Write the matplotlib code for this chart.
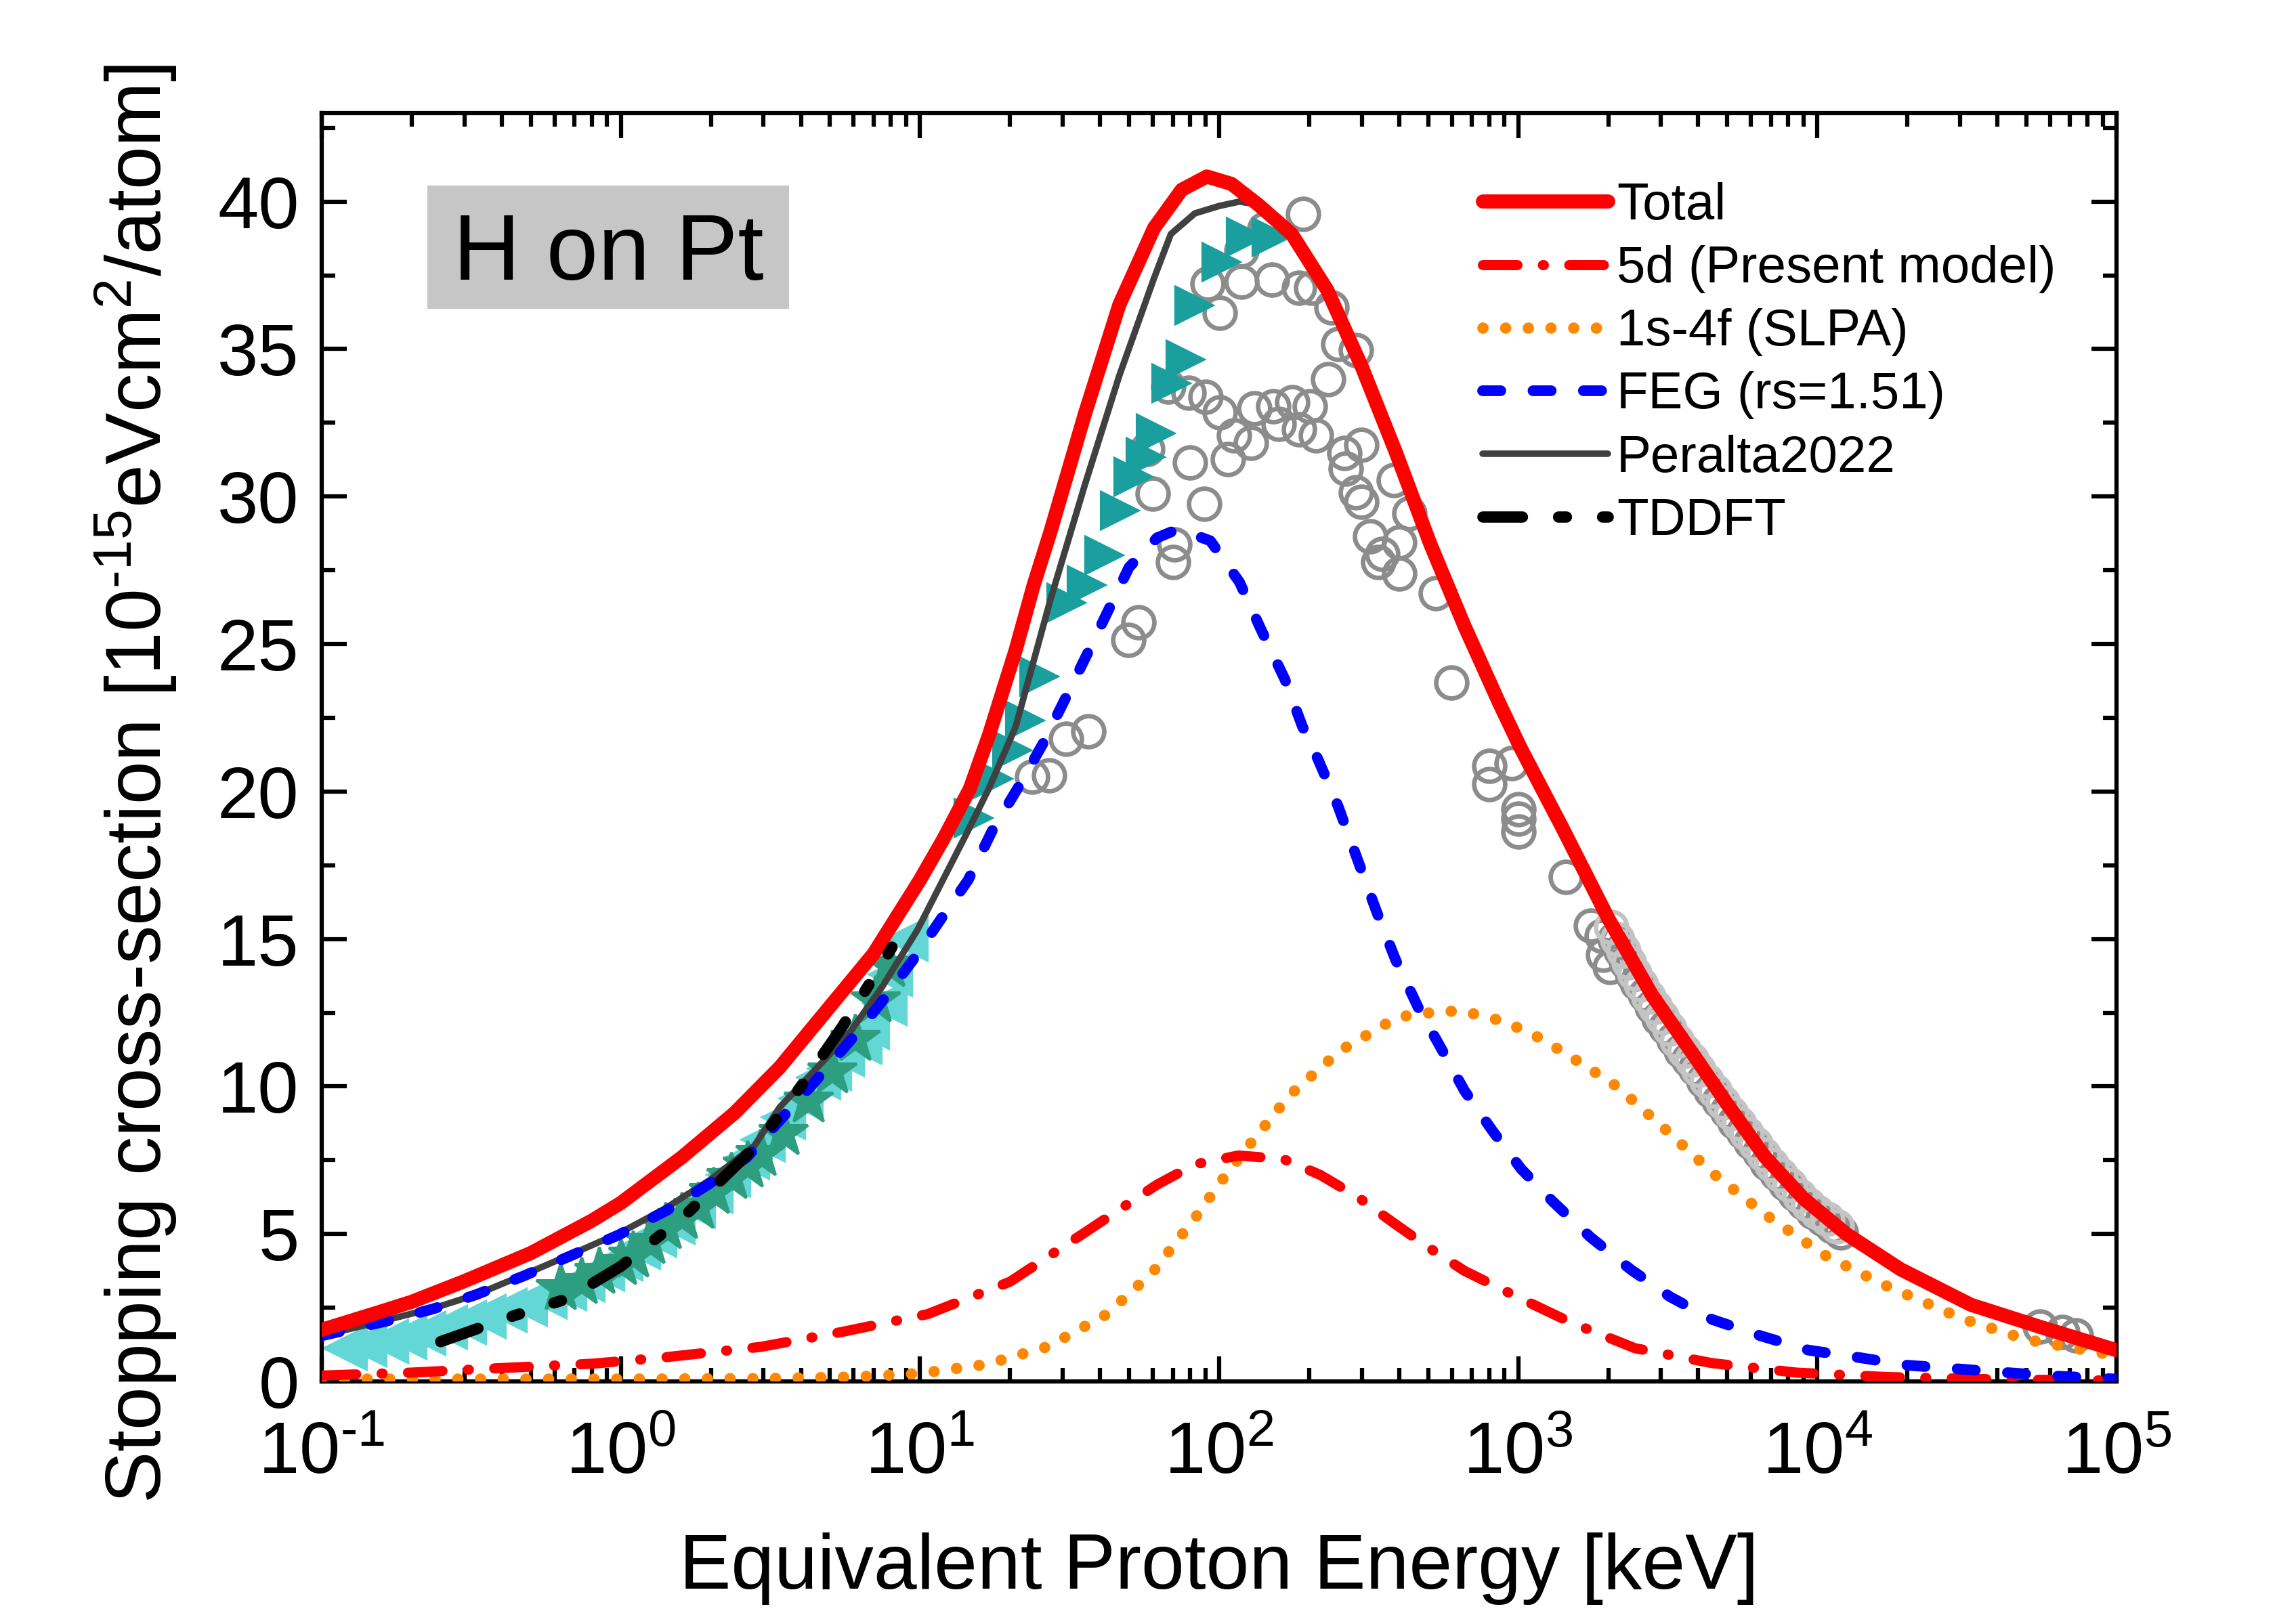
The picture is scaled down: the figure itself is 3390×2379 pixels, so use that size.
import matplotlib
matplotlib.use('Agg')
import matplotlib.pyplot as plt
import numpy as np
from matplotlib.ticker import LogLocator, MultipleLocator, NullFormatter, FuncFormatter
from matplotlib.patches import Rectangle

plt.rcParams['font.family'] = ['Liberation Sans', 'DejaVu Sans']
plt.rcParams['mathtext.fontset'] = 'custom'
plt.rcParams['mathtext.rm'] = 'Liberation Sans'
plt.rcParams['mathtext.it'] = 'Liberation Sans:italic'
plt.rcParams['mathtext.bf'] = 'Liberation Sans:bold'
plt.rcParams['mathtext.default'] = 'regular'

# ---- model curves (keV, 1e-15 eVcm2/atom) ----
E_tot = [0.1, 0.15, 0.2, 0.3, 0.5, 0.8, 1.0, 1.6, 2.4, 3.4, 4.9, 7.0, 10, 12, 14.7, 17, 20.9, 24,
         27.3, 35.6, 46.4, 60.6, 75, 91, 110, 135, 175, 230, 300, 390, 508, 662, 864, 1016, 1400,
         2000, 2800, 3900, 5000, 6700, 9000, 12500, 19000, 32600, 55500, 100000]
S_tot = [1.75, 2.3, 2.7, 3.4, 4.35, 5.45, 6.05, 7.6, 9.1, 10.65, 12.6, 14.5, 17.0, 18.4, 20.1, 21.9,
         24.8, 27.0, 28.8, 32.8, 36.5, 39.1, 40.4, 40.85, 40.6, 39.9, 38.9, 37.0, 34.4, 31.5, 28.4,
         25.6, 23.0, 21.5, 18.8, 15.7, 13.1, 11.0, 9.4, 7.6, 6.2, 5.0, 3.8, 2.6, 1.85, 1.06]

E_per = [0.1, 0.16, 0.24, 0.33, 0.47, 0.68, 1.0, 1.4, 2.0, 2.8, 3.4, 4.4, 5.8, 7.5, 9.8, 14.2,
         17, 20.9, 27.3, 35.6, 46.4, 60.6, 69, 83, 100, 117, 135, 175, 230, 300, 390, 508, 662,
         864, 1016, 1400, 2000, 2800, 3900, 5000, 6700, 9000, 12500, 19000, 32600, 55500, 100000]
S_per = [1.55, 2.05, 2.5, 2.95, 3.6, 4.3, 5.05, 5.85, 6.85, 8.0, 9.3, 10.5, 11.8, 13.4, 15.3, 18.5,
         20.1, 22.2, 26.5, 30.4, 34.1, 37.4, 38.9, 39.6, 39.85, 40.0, 39.9, 38.9, 37.0, 34.4, 31.5,
         28.4, 25.6, 23.0, 21.5, 18.8, 15.7, 13.1, 11.0, 9.4, 7.6, 6.2, 5.0, 3.8, 2.6, 1.85, 1.06]

E_feg = [0.1, 0.164, 0.236, 0.328, 0.472, 0.68, 0.98, 1.42, 1.97, 2.64, 3.4, 4.4, 5.9, 7.3, 9.5,
         11.8, 14.5, 17.5, 21.2, 25.7, 30.8, 36.4, 50, 62, 73, 93.5, 117, 138, 166, 190, 214, 250,
         295, 337, 389, 462, 552, 661, 820, 1024, 1305, 1740, 2375, 3220, 4450, 6450, 9350, 14000,
         20000, 30000, 43000, 63000, 100000]
S_feg = [1.55, 2.04, 2.46, 2.94, 3.57, 4.26, 4.96, 5.79, 6.69, 7.6, 8.85, 10.1, 11.6, 12.75, 14.3,
         15.7, 17.0, 18.7, 20.1, 21.6, 23.2, 24.7, 27.6, 28.6, 28.9, 28.5, 27.1, 25.5, 23.8, 22.2, 21.1, 19.5,
         17.5, 15.9, 14.3, 12.7, 11.3, 9.86, 8.5, 7.2, 6.1, 4.9, 3.8, 2.87, 2.1, 1.55, 1.06, 0.8,
         0.55, 0.42, 0.3, 0.18, 0.08]

E_5d = [0.1, 0.2, 0.41, 0.8, 1.35, 2.93, 5.5, 10.6, 20, 35, 62, 83, 116, 164, 218, 291, 380, 500,
        661, 1000, 1500, 2450, 4450, 8500, 17000, 40000, 100000]
S_5d = [0.2, 0.3, 0.46, 0.6, 0.8, 1.17, 1.68, 2.28, 3.38, 5.0, 6.67, 7.36, 7.66, 7.54, 7.0, 6.25, 5.4, 4.55,
        3.75, 2.85, 2.0, 1.13, 0.62, 0.3, 0.15, 0.07, 0.03]

E_slpa = [0.1, 1, 3, 6, 10, 16.7, 26.8, 42, 60, 83.5, 101.5, 127, 172, 253, 295, 395, 552, 655, 902,
          1205, 1614, 2140, 3100, 4550, 6830, 10500, 16500, 31000, 50000, 100000]
S_slpa = [0.08, 0.08, 0.1, 0.15, 0.27, 0.58, 1.18, 2.27, 3.7, 5.57, 6.78, 8.05, 9.7, 11.2, 11.6, 12.35,
          12.55, 12.55, 12.2, 11.6, 10.8, 10.0, 8.55, 7.0, 5.6, 4.3, 3.3, 2.1, 1.42, 0.87]

E_td = [0.25, 0.44, 0.66, 1.0, 1.63, 2.84, 4.0, 5.48, 7.0, 8.5]
S_td = [1.35, 2.23, 2.8, 3.9, 5.6, 8.0, 10.0, 12.0, 13.7, 15.1]

# ---- experimental points ----
circ_E = [191, 142, 119, 91.6, 119, 150, 185, 100.5, 203, 238, 251, 287, 232, 67.5, 79, 90.3, 100.5,
          131, 152, 176, 201, 158, 185, 211, 112, 128, 107, 80, 57.5, 60, 89, 262, 299, 265, 385, 287,
          299, 434, 320, 401, 351, 341, 401, 71, 70, 530, 53.8, 49.7, 597, 36.6, 30.8, 23.7, 27.1,
          800, 800, 951, 1000, 1000, 1000, 1440, 1750, 1900, 1920, 2030, 55400, 65900, 73300]
circ_S = [39.57, 39.07, 38.34, 37.22, 37.29, 37.35, 37.08, 36.23, 37.08, 36.42, 35.17, 34.97, 33.98,
          33.72, 33.52, 33.39, 32.86, 32.99, 33.06, 33.19, 33.06, 32.47, 32.27, 32.07, 32.07, 31.81,
          31.28, 31.15, 31.61, 30.09, 29.76, 31.48, 31.74, 30.95, 30.55, 30.15, 29.82, 29.43, 28.64,
          28.44, 28.05, 27.78, 27.39, 28.37, 27.78, 26.73, 25.74, 25.14, 23.69, 22.04, 21.78, 20.49,
          20.54, 20.88, 20.25, 20.95, 19.41, 19.07, 18.65, 17.11, 15.45, 15.1, 14.47, 14.05, 1.86,
          1.68, 1.57]

band_E = [2100, 2200, 2300, 2400, 2500, 2650, 2800, 2950, 3100, 3300, 3500, 3700, 3900, 4150, 4400,
          4700, 5000, 5300, 5650, 6000, 6400, 6800, 7300, 7800, 8400, 9000, 9700, 10400, 11200, 12000]
band_S = [15.0, 14.6, 14.2, 13.8, 13.5, 13.1, 12.7, 12.3, 12.0, 11.6, 11.2, 10.9, 10.6, 10.2, 9.85,
          9.5, 9.15, 8.8, 8.45, 8.1, 7.75, 7.4, 7.05, 6.7, 6.35, 6.05, 5.75, 5.5, 5.25, 5.05]

lband_E = [2050, 2150, 2250, 2350, 2450, 2580, 2720, 2870, 3020, 3200, 3400, 3600, 3800, 4020, 4270,
           4550, 4850, 5150, 5470, 5820, 6200, 6600, 7050, 7550, 8100, 8700, 9350, 10000, 10800, 11600]
lband_S = [15.4, 15.0, 14.6, 14.2, 13.85, 13.45, 13.05, 12.7, 12.35, 11.95, 11.55, 11.2, 10.9, 10.55,
           10.2, 9.85, 9.45, 9.1, 8.75, 8.4, 8.05, 7.7, 7.35, 7.0, 6.65, 6.3, 6.0, 5.75, 5.5, 5.25]

tri_E = [15.1, 17.5, 20.3, 22.4, 25.0, 30.8, 36.1, 41.2, 46.5, 51.7, 56.7, 61.4, 69.2, 77, 82.3,
         101.8, 122.7, 149.7]
tri_S = [19.1, 20.44, 21.39, 22.4, 23.9, 26.4, 26.99, 28.02, 29.52, 30.68, 31.34, 32.13, 33.83,
         34.64, 36.49, 37.94, 38.8, 38.8]

cyan_E = [0.12, 0.14, 0.165, 0.19, 0.22, 0.26, 0.3, 0.35, 0.41, 0.48, 0.56, 0.65, 0.75, 0.87, 1.0,
          1.15, 1.3, 1.5, 1.75, 2.0, 2.3, 2.65, 3.0, 3.5, 4.0, 4.6, 5.0, 5.5, 6.3, 6.7, 7.65, 8.0, 9.0]
cyan_S = [1.12, 1.23, 1.36, 1.5, 1.64, 1.84, 2.0, 2.2, 2.4, 2.62, 2.88, 3.15, 3.45, 3.8, 4.15,
          4.55, 4.95, 5.4, 5.95, 6.45, 7.0, 7.6, 8.2, 8.95, 9.6, 10.3, 10.6, 11.1, 11.5, 12.0, 12.8,
          13.8, 15.0]

star_E = [0.63, 0.74, 0.85, 1.0, 1.1, 1.25, 1.41, 1.6, 1.82, 2.05, 2.35, 2.65, 2.94, 3.5, 4.25,
          5.1, 6.1, 7.1, 7.9]
star_S = [3.15, 3.35, 3.7, 4.0, 4.25, 4.7, 5.2, 5.55, 5.9, 6.4, 6.9, 7.3, 7.7, 8.4, 9.5, 10.5,
          11.6, 12.9, 14.1]


def decade_label(v, pos):
    n = int(round(np.log10(v)))
    if n < 0:
        return r'$10^{\text{-}%d}$' % (-n)
    return r'$10^{%d}$' % n


fig = plt.figure(figsize=(11.3, 7.93), dpi=300)
ax = fig.add_axes([0.1401, 0.1425, 0.7817, 0.7873])

# experimental data (under the curves)
ax.plot(cyan_E, cyan_S, '<', ms=15, color='#63d6d6', mec='#63d6d6', zorder=2)
ax.plot(star_E, star_S, '*', ms=18, color='#2e9e80', mec='#2e9e80', zorder=2)
ax.plot(circ_E, circ_S, 'o', ms=11, mfc='none', mec='#8c8c8c', mew=1.6, zorder=2)
ax.plot(band_E, band_S, 'o', ms=11, mfc='none', mec='#8c8c8c', mew=1.6, zorder=2)
ax.plot(lband_E, lband_S, 'o', ms=11, mfc='none', mec='#c4c4c4', mew=1.6, zorder=2)
ax.plot(tri_E, tri_S, '>', ms=13, color='#1a9e9e', mec='#1a9e9e', zorder=2)

# model curves
l_per, = ax.plot(E_per, S_per, color='#404040', lw=2.3, solid_capstyle='round', zorder=3,
                 label='Peralta2022')
l_slpa, = ax.plot(E_slpa, S_slpa, color='#ff8800', lw=4, ls=(0, (0.01, 2.0)),
                  dash_capstyle='round', zorder=4, label='1s-4f (SLPA)')
l_5d, = ax.plot(E_5d, S_5d, color='red', lw=3.6, ls=(0, (3.4, 2.5, 0.1, 2.5)),
                dash_capstyle='round', zorder=4, label='5d (Present model)')
l_feg, = ax.plot(E_feg, S_feg, color='blue', lw=3.8, ls=(0, (1.7, 3.0)),
                 dash_capstyle='round', zorder=5, label='FEG (rs=1.51)')
l_tot, = ax.plot(E_tot, S_tot, color='red', lw=5, solid_capstyle='round', zorder=6, label='Total')
l_td, = ax.plot(E_td, S_td, color='black', lw=4, ls=(0, (3.5, 3.2, 0.7, 3.2, 0.7, 3.2)),
                dash_capstyle='round', zorder=7, label='TDDFT')

ax.set_xscale('log')
ax.set_xlim(0.1, 1e5)
ax.set_ylim(0, 43)
ax.xaxis.set_major_locator(LogLocator(base=10, numticks=20))
ax.xaxis.set_major_formatter(FuncFormatter(decade_label))
ax.xaxis.set_minor_locator(LogLocator(base=10, subs=np.arange(2, 10), numticks=20))
ax.xaxis.set_minor_formatter(NullFormatter())
ax.yaxis.set_major_locator(MultipleLocator(5))
ax.yaxis.set_minor_locator(MultipleLocator(2.5))
ax.tick_params(which='both', direction='in', top=True, right=True, width=1.5)
ax.tick_params(which='major', length=8.9, labelsize=26)
ax.tick_params(axis='x', which='major', pad=14)
ax.tick_params(axis='y', which='major', pad=8)
ax.tick_params(which='minor', length=4.8)
for s in ax.spines.values():
    s.set_linewidth(1.5)

ax.set_xlabel('Equivalent Proton Energy [keV]', fontsize=27.5, va='top')
ax.set_ylabel(r'Stopping cross-section [10$^{\text{-}15}$eVcm$^{2}$/atom]', fontsize=27.5)
ax.xaxis.set_label_coords(0.5, -0.119)
ax.yaxis.set_label_coords(-0.0796, 0.471)

ax.add_patch(Rectangle((0.0589, 0.8457), 0.2015, 0.0972, transform=ax.transAxes,
                       facecolor='#c6c6c6', edgecolor='none', zorder=8))
ax.text(0.1596, 0.8687, 'H on Pt', transform=ax.transAxes, fontsize=33, ha='center',
        va='baseline', zorder=9)

ax.legend(handles=[l_tot, l_5d, l_slpa, l_feg, l_per, l_td], loc='upper left',
          bbox_to_anchor=(0.647, 0.9455), frameon=False, fontsize=18.3, borderpad=0,
          borderaxespad=0, handlelength=2.42, handletextpad=0.17, labelspacing=0.29)

fig.savefig('out.png', dpi=300)
